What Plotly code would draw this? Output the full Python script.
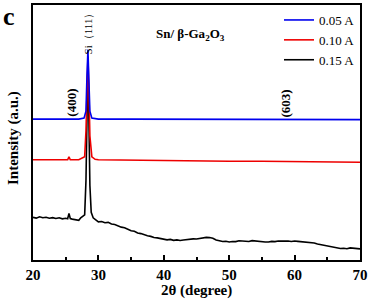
import plotly.graph_objects as go

# ---- data (2theta in degrees, intensity in arbitrary units) ----
x_blue = [20, 22, 24, 26, 27, 27.8, 28.1, 28.25, 28.4, 28.55, 28.7, 29.0, 30, 35, 40, 45, 50, 55, 60, 65, 70]
y_blue = [142, 142, 142, 142, 142, 143, 150, 185, 212, 180, 150, 143, 142, 142, 142, 142, 142, 141.5, 141.5, 141.5, 141.5]

x_red = [20, 22, 24, 25.3, 25.5, 25.7, 27, 27.5, 27.9, 28.1, 28.25, 28.4, 28.55, 28.7, 29.0, 29.5, 30, 35, 40, 45, 50, 55, 60, 65, 70]
y_red = [101, 101, 101, 101, 104, 101, 101, 103, 104, 130, 180, 205, 170, 125, 104, 101.5, 101, 100.5, 100, 100, 99.5, 99.5, 99, 98.5, 98.5]

x_black = [20, 20.5, 21, 21.5, 22, 22.5, 23, 23.5, 24, 24.5, 25, 25.3, 25.5, 25.7, 26, 26.5, 27, 27.3, 27.6, 27.9,
           28.1, 28.25, 28.4, 28.55, 28.7, 28.9, 29.2, 29.5, 30, 30.5, 31, 31.5, 32, 32.5, 33, 33.5, 34, 34.5,
           35, 35.5, 36, 36.5, 37, 37.5, 38, 38.5, 39, 39.5, 40, 40.5, 41, 41.5, 42, 42.5, 43, 43.5, 44, 44.5,
           45, 45.5, 46, 46.5, 47, 47.5, 48, 48.5, 49, 49.5, 50, 50.5, 51, 51.5, 52, 52.5, 53, 53.5, 54, 54.5,
           55, 55.5, 56, 56.5, 57, 57.5, 58, 58.5, 59, 59.5, 60, 60.5, 61, 61.5, 62, 62.5, 63, 63.5, 64, 64.5,
           65, 65.5, 66, 66.5, 67, 67.5, 68, 68.5, 69, 69.5, 70]
y_black = [43, 42.2, 43.5, 42.6, 43, 42.1, 42.7, 41.8, 42.6, 41.5, 42, 41.6, 47, 41.8, 41.2, 40.6, 40, 42.5, 44.5, 45.5,
           80, 150, 200, 140, 75, 48, 42.5, 41, 38.5, 38.8, 37.6, 37.9, 36.2, 35.8, 34.4, 33.1, 32.5, 30.6,
           29.4, 28.9, 27.2, 26.6, 25.3, 24.4, 23.8, 22.6, 22.3, 21.4, 21.2, 20.3, 20.8, 19.8, 20.3, 19.6, 20.1, 20.6, 20.4, 21.3,
           21.2, 21.9, 22.1, 22.8, 22.6, 21.9, 20.2, 19.3, 18.6, 18.9, 18.2, 18.7, 18.5, 19.4, 19.1, 18.6, 18.7, 19.5, 19.1, 18.4,
           18.7, 18.1, 18.2, 18.8, 18.5, 19.2, 19.0, 19.3, 19.1, 18.6, 19.2, 18.8, 18.6, 18.2, 18.1, 17.3, 17.1, 16.2, 15.6, 14.8,
           14.1, 13.3, 12.6, 12.1, 11.6, 11.9, 11.4, 12.2, 12.1, 11.3, 11.2]

series_names = ["0.15 A", "0.10 A", "0.05 A"]
series_colors = ["#000000", "#ee0000", "#0000ee"]

x_ticks = [20, 30, 40, 50, 60, 70]

# ---- figure ----
SERIF = "Liberation Serif, Times New Roman, serif"

fig = go.Figure()
for xs, ys, name, col in zip([x_black, x_red, x_blue], [y_black, y_red, y_blue], series_names, series_colors):
    fig.add_trace(go.Scatter(x=xs, y=ys, mode="lines", name=name,
                             line=dict(color=col, width=1.6)))

fig.update_layout(
    width=371, height=300,
    margin=dict(l=33, r=8, t=3, b=40),
    paper_bgcolor="white", plot_bgcolor="white",
    font=dict(family=SERIF, color="black"),
    showlegend=True,
    legend=dict(x=1, y=1, xanchor="right", yanchor="top", traceorder="reversed",
                font=dict(family=SERIF, size=13, color="black"),
                bgcolor="rgba(0,0,0,0)", itemwidth=30, tracegroupgap=0),
    xaxis=dict(range=[20, 70], tickvals=x_ticks, ticks="inside", ticklen=5, tickwidth=1.5,
               tickcolor="black", showline=True, linewidth=2, linecolor="black", mirror=True,
               showgrid=False, zeroline=False,
               tickfont=dict(family=SERIF, size=15, color="black", weight="bold"),
               minor=dict(dtick=5, tick0=25, ticks="inside", ticklen=3, tickcolor="black")),
    yaxis=dict(range=[0, 257], showticklabels=False, ticks="", showline=True, linewidth=2,
               linecolor="black", mirror=True, showgrid=False, zeroline=False),
)

def add_text(text, x, y, xref="paper", yref="paper", size=13, angle=0, xanchor="center", yanchor="middle", xshift=0, yshift=0):
    fig.add_annotation(text=text, x=x, y=y, xref=xref, yref=yref, textangle=angle,
                       xanchor=xanchor, yanchor=yanchor, xshift=xshift, yshift=yshift,
                       showarrow=False, font=dict(family=SERIF, size=size, color="black"))

add_text("<b>c</b>", 0, 1, xanchor="left", yanchor="top", size=26, xshift=-32, yshift=5)
add_text("<b>Sn/ β-Ga<sub>2</sub>O<sub>3</sub></b>", 0.37, 0.885, xanchor="left", size=13)
add_text("<b>2θ (degree)</b>", 0.5, 0, yanchor="top", size=15, yshift=-20)
add_text("<b>Intensity (a.u.)</b>", 0, 0.5, xanchor="right", size=15, angle=-90, xshift=-9, yshift=-6)
add_text("Si（111）", 28.4, 257, xref="x", yref="y", size=11, angle=-90, yanchor="top")
add_text("<b>(400)</b>", 25.9, 142, xref="x", yref="y", size=13, angle=-90, yanchor="bottom")
add_text("<b>(603)</b>", 58.6, 142, xref="x", yref="y", size=13, angle=-90, yanchor="bottom")

fig.write_html("out.html", config={"displayModeBar": False},
               post_script="document.body.style.margin='0';document.body.style.padding='0';")
